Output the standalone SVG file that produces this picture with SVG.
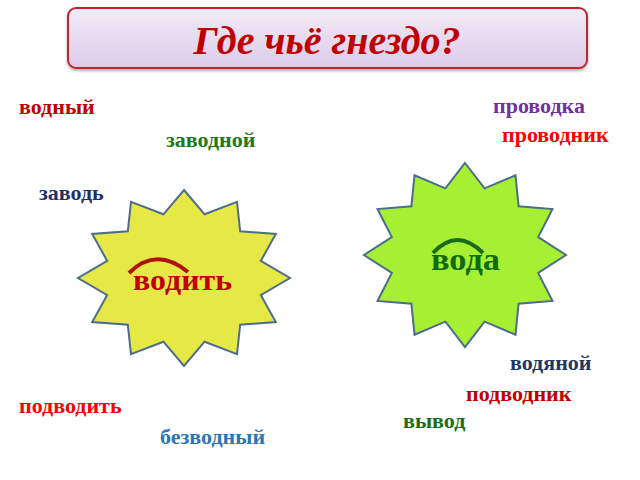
<svg xmlns="http://www.w3.org/2000/svg" width="640" height="480" viewBox="0 0 640 480">
<defs>
<linearGradient id="tg" x1="0" y1="0" x2="0" y2="1">
<stop offset="0" stop-color="#f3ecf7"/>
<stop offset="1" stop-color="#dccbea"/>
</linearGradient>
<filter id="sh" x="-5%" y="-20%" width="110%" height="150%">
<feDropShadow dx="0" dy="2" stdDeviation="1.5" flood-color="#000" flood-opacity="0.3"/>
</filter>
</defs>
<style>
.w{font-family:"Liberation Serif","Times New Roman",serif;font-weight:bold;font-size:22px}
.big{font-family:"Liberation Serif","Times New Roman",serif;font-weight:bold}
.star{stroke:#4d6d8c;stroke-width:2;stroke-linejoin:miter}
</style>
<rect width="640" height="480" fill="#fff"/>
<g id="title">
<rect x="68" y="8" width="519" height="60" rx="8" fill="url(#tg)" stroke="#c0282d" stroke-width="2" filter="url(#sh)"/>
<text x="327" y="54" text-anchor="middle" font-family="Liberation Serif,serif" font-weight="bold" font-style="italic" font-size="40" fill="#c00000">Где чьё гнездо?</text>
</g>
<g id="star-left">
<polygon class="star" fill="#e6e845" points="184,190 204.6,214.3 237,201.8 240.2,231.3 275.8,234 260.8,260.9 290,278 260.8,295.1 275.8,322 240.2,324.7 237,354.2 204.6,341.7 184,366 163.4,341.7 131,354.2 127.8,324.7 92.2,322 107.2,295.1 78,278 107.2,260.9 92.2,234 127.8,231.3 131,201.8 163.4,214.3"/>
<path d="M129,273 Q156,246 188,272" fill="none" stroke="#b01010" stroke-width="4"/>
<text class="big" x="133" y="290" font-size="29" fill="#c00000" textLength="99" lengthAdjust="spacingAndGlyphs">водить</text>
</g>
<g id="star-right">
<polygon class="star" fill="#a6ef32" points="465,163 484.6,188.4 515.5,175.3 518.6,206.2 552.5,209 538.2,237.1 566,255 538.2,272.9 552.5,301 518.6,303.8 515.5,334.7 484.6,321.6 465,347 445.4,321.6 414.5,334.7 411.4,303.8 377.5,301 391.8,272.9 364,255 391.8,237.1 377.5,209 411.4,206.2 414.5,175.3 445.4,188.4"/>
<path d="M433,253 Q457,227 483,253" fill="none" stroke="#1a6a1a" stroke-width="4"/>
<text class="big" x="431" y="270" font-size="31" fill="#0e6b0e" textLength="69" lengthAdjust="spacingAndGlyphs">вода</text>
</g>
<g id="words">
<text class="w" x="19" y="114" fill="#c00000">водный</text>
<text class="w" x="166" y="147" fill="#1a7a1a">заводной</text>
<text class="w" x="39" y="200" fill="#1f2f6b">заводь</text>
<text class="w" x="493" y="113" fill="#7030a0">проводка</text>
<text class="w" x="502" y="142" fill="#ff0000">проводник</text>
<text class="w" x="510" y="370" fill="#1f3864">водяной</text>
<text class="w" x="466" y="401" fill="#c00000">подводник</text>
<text class="w" x="403" y="428" fill="#176f17">вывод</text>
<text class="w" x="19" y="413" fill="#ff0000">подводить</text>
<text class="w" x="160" y="444" fill="#2e75b6">безводный</text>
</g>
</svg>
